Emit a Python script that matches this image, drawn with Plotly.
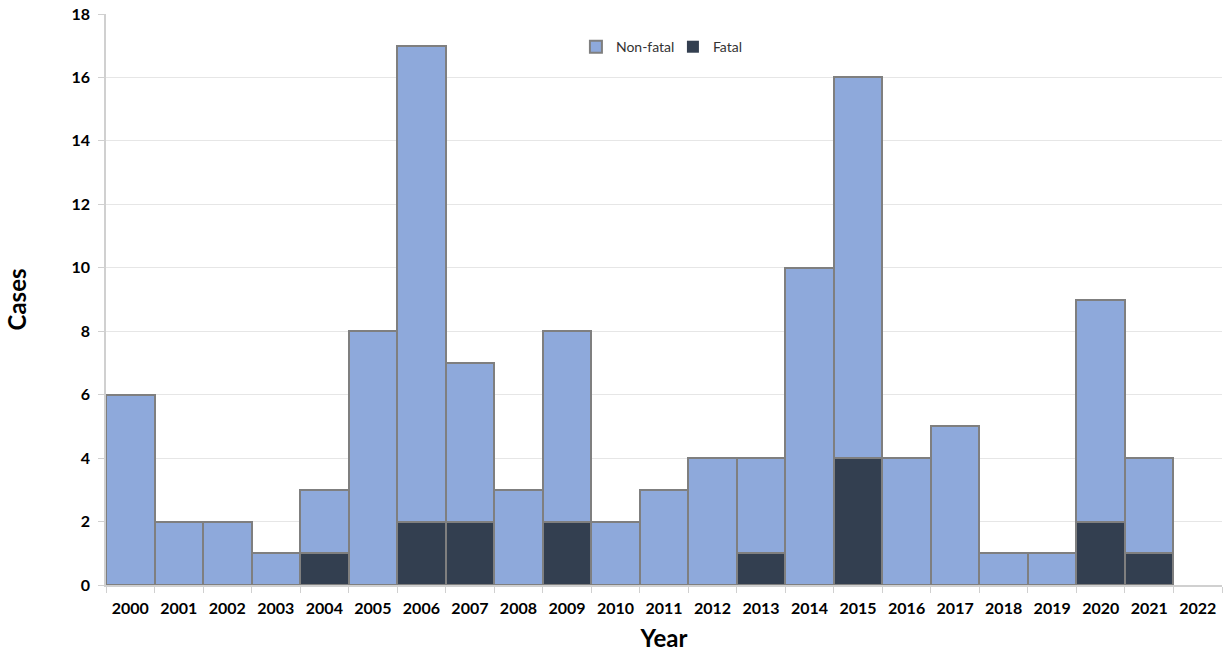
import plotly.graph_objects as go

years = [str(y) for y in range(2000, 2023)]
totals = [6, 2, 2, 1, 3, 8, 17, 7, 3, 8, 2, 3, 4, 4, 10, 16, 4, 5, 1, 1, 9, 4, 0]
fatal = [0, 0, 0, 0, 1, 0, 2, 2, 0, 2, 0, 0, 0, 1, 0, 4, 0, 0, 0, 0, 2, 1, 0]
non_fatal = [t - f for t, f in zip(totals, fatal)]

font_family = "Lato, 'Open Sans', sans-serif"


def outline(values):
    return dict(color="#7F7F7F", width=[0 if v == 0 else 2 for v in values])


fig = go.Figure()
fig.add_trace(go.Bar(
    x=years, y=fatal, name="Fatal",
    marker=dict(color="#333F50", line=outline(fatal)),
    legendrank=2,
))
fig.add_trace(go.Bar(
    x=years, y=non_fatal, name="Non-fatal",
    marker=dict(color="#8EA9DB", line=outline(non_fatal)),
    legendrank=1,
))

fig.update_layout(
    barmode="stack",
    bargap=0,
    width=1225, height=657,
    margin=dict(l=106, r=3, t=14, b=72),
    plot_bgcolor="white", paper_bgcolor="white",
    font=dict(family=font_family, color="#000000"),
    legend=dict(
        orientation="h", x=0.508, y=0.942, xanchor="center", yanchor="middle",
        font=dict(size=14, color="#333333"), bgcolor="rgba(0,0,0,0)",
        traceorder="normal", itemwidth=30, entrywidth=52,
    ),
    xaxis=dict(
        type="category",
        title=dict(text="<b>Year</b>", font=dict(size=24), standoff=14),
        tickfont=dict(size=16, family=font_family),
        tickprefix="<b>", ticksuffix="</b>",
        ticklabelstandoff=8,
        showline=True, linecolor="#D0D0D0", linewidth=1.5,
        ticks="outside", tickson="boundaries", ticklen=6, tickcolor="#D0D0D0",
        showgrid=False,
    ),
    yaxis=dict(
        range=[0, 18], dtick=2,
        title=dict(text="<b>Cases</b>", font=dict(size=24), standoff=38),
        tickfont=dict(size=16, family=font_family),
        tickprefix="<b>", ticksuffix="</b>",
        ticklabelstandoff=5,
        showline=True, linecolor="#D0D0D0", linewidth=1.5,
        ticks="outside", ticklen=6, tickcolor="#D0D0D0",
        showgrid=True, gridcolor="#E6E6E6", gridwidth=1,
        zeroline=False,
    ),
)

fig.write_html("out.html")
